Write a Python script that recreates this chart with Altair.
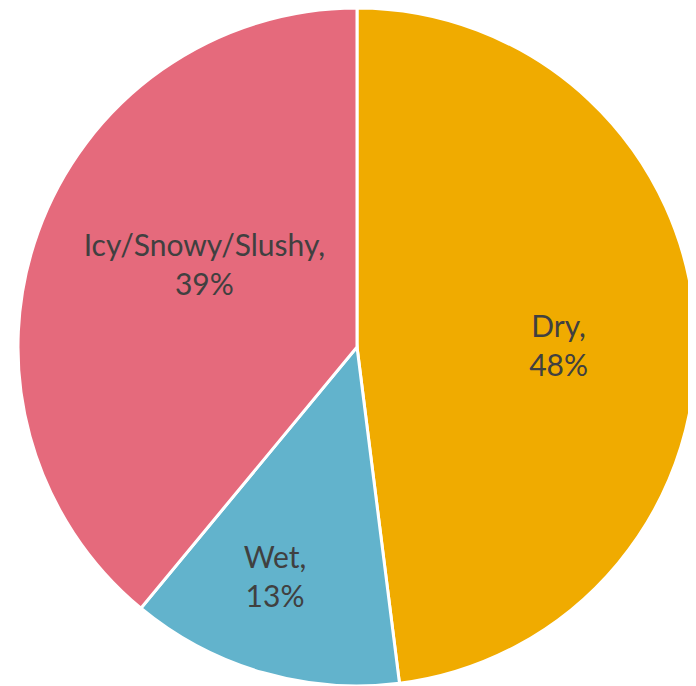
import altair as alt
import pandas as pd

categories = ["Dry", "Wet", "Icy/Snowy/Slushy"]
shares = [48, 13, 39]
labels = ["Dry,\n48%", "Wet,\n13%", "Icy/Snowy/Slushy,\n39%"]
colors = ["#F0AB00", "#62B3CC", "#E56A7C"]

df = pd.DataFrame({
    "cat": categories,
    "share": shares,
    "label": labels,
    "idx": list(range(len(categories))),
})

W, H = 680, 678
CX, CY = 349, 339
R = 339

base = alt.Chart(df).encode(
    theta=alt.Theta("share:Q", stack=True),
    order=alt.Order("idx:Q"),
)

pie = base.mark_arc(stroke="white", strokeWidth=3, radius=R).encode(
    color=alt.Color("cat:N", scale=alt.Scale(domain=categories, range=colors), legend=None),
    x=alt.value(CX), y=alt.value(CY),
)

def lab(cat, r, dx=0, dy=0):
    return base.mark_text(fontSize=30, font="Lato", color="#404040", lineBreak="\n",
                          lineHeight=39, radius=r, dx=dx, dy=dy).encode(
        text="label:N", x=alt.value(CX), y=alt.value(CY),
        opacity=alt.condition(alt.datum.cat == cat, alt.value(1), alt.value(0)),
    )

chart = alt.layer(
    pie,
    lab("Dry", 202, dy=-6),
    lab("Wet", 240, dx=-15, dy=-18),
    lab("Icy/Snowy/Slushy", 175, dx=12, dy=-41),
).properties(
    width=W, height=H, padding=0,
    autosize=alt.AutoSizeParams(type="none"),
).configure_view(stroke=None)

chart.save("out.html", embed_options={"renderer": "svg", "actions": False})
